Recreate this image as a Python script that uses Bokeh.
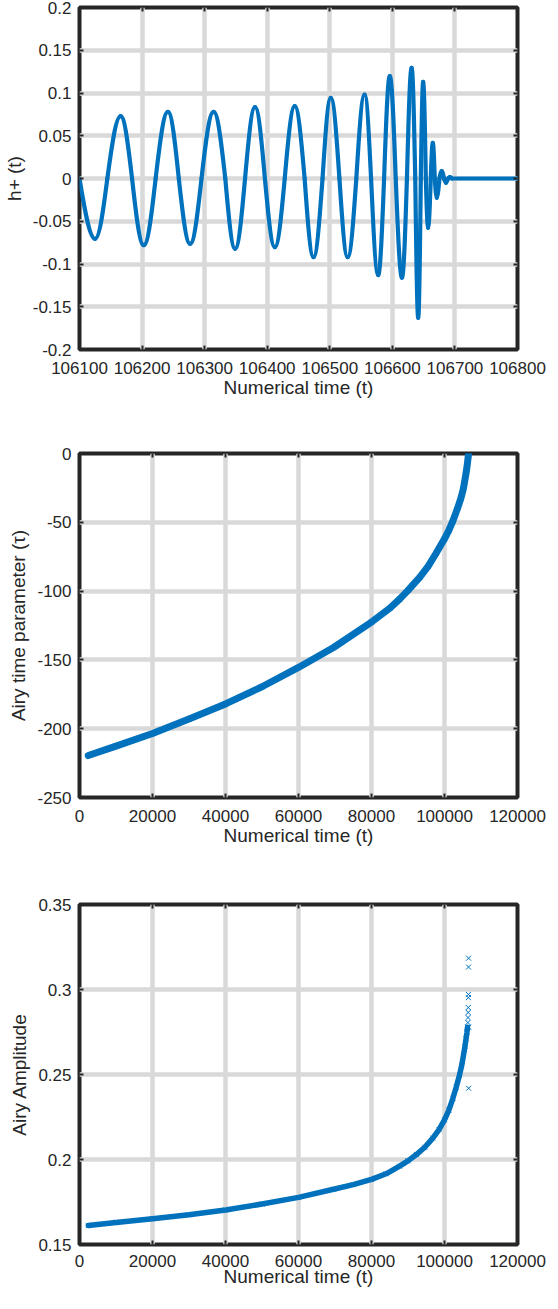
from bokeh.plotting import figure
from bokeh.layouts import column
from bokeh.models import (Range1d, FixedTicker, CustomJSTickFormatter, LinearAxis,
                          ColumnDataSource, CustomLabelingPolicy)
from bokeh.embed import file_html
from bokeh.resources import INLINE

# ---------------- data ----------------
# Panel 1: h+(t) waveform -- zero crossings and extrema
wave_t = [106100, 106125, 106144.5, 106165.7, 106184, 106202.7, 106221.7, 106241.3,
          106258.7, 106276.8, 106295, 106314.3, 106333, 106348.7, 106364.6, 106380.5,
          106396.3, 106412.2, 106428, 106444, 106459.8, 106474, 106488.4, 106501.6,
          106515.4, 106528.6, 106542.4, 106555.6, 106566, 106577.3, 106586.8, 106595.9,
          106605.4, 106615.4, 106623.3, 106630.8, 106636.6, 106641.3, 106645.5, 106649.2,
          106653.5, 106657.1, 106661.4, 106664.6, 106667.8, 106671, 106675.2, 106678.9,
          106682.5, 106685.7, 106689, 106692, 106695.3, 106800]
wave_h = [0, -0.0705, 0, 0.0729, 0, -0.078, 0, 0.078,
          0, -0.0764, 0, 0.078, 0, -0.0822, 0, 0.0834,
          0, -0.0803, 0, 0.0846, 0, -0.092, 0, 0.0944,
          0, -0.092, 0, 0.0982, 0, -0.113, 0, 0.1197,
          0, -0.116, 0, 0.1295, 0, -0.163, 0, 0.113,
          0, -0.0577, 0, 0.0418, 0, -0.0226, 0, 0.0086,
          0, -0.005, 0, 0.0015, 0, 0]
wave_xticks = [106100, 106200, 106300, 106400, 106500, 106600, 106700, 106800]
wave_yticks = [-0.2, -0.15, -0.1, -0.05, 0, 0.05, 0.1, 0.15, 0.2]

# Panel 2: Airy time parameter tau vs numerical time
tau_t = [2400, 10000, 20000, 30000, 40000, 50000, 60000, 69600, 80000, 85000,
         87700, 90000, 93200, 95500, 97700, 100000, 101250, 102300, 103550, 104500,
         105180, 105900, 106270, 106550]
tau_v = [-219.5, -212.7, -203.5, -193, -182, -169.5, -155.5, -141, -122.5, -112.5,
         -105.8, -99.5, -90, -82, -72.5, -62, -55.5, -49, -40, -32.5,
         -25.5, -14.5, -7.5, -1]
tau_yticks = [-250, -200, -150, -100, -50, 0]

# Panel 3: Airy amplitude vs numerical time
amp_t = [2400, 10000, 20000, 30000, 40000, 50000, 60000, 69600, 75000, 80000,
         84000, 87700, 90000, 92300, 94600, 96800, 98500, 100000, 101200, 102300,
         103200, 104100, 104700, 105200, 105600, 105900, 106150, 106300]
amp_v = [0.1612, 0.163, 0.1652, 0.1675, 0.1703, 0.1738, 0.1777, 0.1825, 0.1852, 0.1883,
         0.1916, 0.1961, 0.1992, 0.2029, 0.2072, 0.2126, 0.2176, 0.2233, 0.2291, 0.236,
         0.2425, 0.2496, 0.2552, 0.2613, 0.2665, 0.271, 0.2748, 0.2778]
amp_sparse_t = [106400, 106450, 106500, 106520, 106540, 106560, 106580, 106600, 106620, 106640]
amp_sparse_v = [0.2806, 0.2835, 0.2865, 0.2894, 0.2952, 0.2971, 0.3132, 0.3184, 0.2419, 0.2778]
amp_yticks = [0.15, 0.2, 0.25, 0.3, 0.35]

time_ticks = [0, 20000, 40000, 60000, 80000, 100000, 120000]

# ---------------- styling ----------------
BLUE = "#0072BD"
TXT = "#262626"
GRID = "#d9d9d9"
FONT = "Liberation Sans"
TICK_FS = "17px"
TITLE_FS = "19px"

fmt = CustomJSTickFormatter(code="return parseFloat(tick.toFixed(6)).toString();")
no_labels = CustomLabelingPolicy(code="for (const i of indices) indices.unset(i)")


def make_fig(height, xr, yr, xticks, yticks, xlabel, ylabel, top, bottom,
             x_std=12, x_title_std=0):
    p = figure(width=550, height=height, x_range=Range1d(*xr), y_range=Range1d(*yr),
               output_backend="svg", toolbar_location=None,
               min_border_left=76, min_border_right=33, min_border_top=top,
               min_border_bottom=bottom)
    p.background_fill_color = "white"
    p.border_fill_color = "white"
    p.outline_line_color = TXT
    p.outline_line_width = 4
    p.xaxis.ticker = FixedTicker(ticks=xticks)
    p.yaxis.ticker = FixedTicker(ticks=yticks)
    for ax in (p.xaxis[0], p.yaxis[0]):
        ax.formatter = fmt
        ax.axis_line_color = None
        ax.major_tick_in = 4
        ax.major_tick_out = 0
        ax.major_tick_line_color = TXT
        ax.major_tick_line_width = 2
        ax.minor_tick_line_color = None
        ax.major_label_text_font = FONT
        ax.major_label_text_font_size = TICK_FS
        ax.major_label_text_color = TXT
        ax.major_label_text_line_height = 1.0
        ax.axis_label_text_font = FONT
        ax.axis_label_text_font_size = TITLE_FS
        ax.axis_label_text_font_style = "normal"
        ax.axis_label_text_color = TXT
        ax.axis_label_text_line_height = 1.0
    p.xaxis[0].axis_label = xlabel
    p.yaxis[0].axis_label = ylabel
    p.xaxis[0].major_label_standoff = x_std
    p.xaxis[0].axis_label_standoff = x_title_std
    p.yaxis[0].major_label_standoff = 8
    p.yaxis[0].axis_label_standoff = 5
    for g in (p.xgrid, p.ygrid):
        g.grid_line_color = GRID
        g.grid_line_width = 4.5
    # tick marks on the top and right edges of the box (no labels)
    for loc, tk in (("above", xticks), ("right", yticks)):
        ax = LinearAxis(ticker=FixedTicker(ticks=tk), formatter=fmt,
                        major_label_policy=no_labels,
                        major_label_text_font_size="0px", major_label_standoff=0,
                        axis_line_color=None, major_tick_in=4, major_tick_out=0,
                        major_tick_line_color=TXT, major_tick_line_width=2,
                        minor_tick_line_color=None)
        p.add_layout(ax, loc)
    return p


# ---------------- panel 1 ----------------
p1 = make_fig(442, (106100, 106800), (-0.2, 0.2), wave_xticks, wave_yticks,
              "Numerical time (t)", "h+ (t)", 7, 93)

seg = dict(x0=[], y0=[], x1=[], y1=[], cx0=[], cy0=[], cx1=[], cy1=[])
for i in range(len(wave_t) - 1):
    xa, ya, xb, yb = wave_t[i], wave_h[i], wave_t[i + 1], wave_h[i + 1]
    dx = xb - xa
    if ya == 0 and yb != 0:
        c0 = (xa + 0.3261 * dx, 0.5123 * yb)
        c1 = (xa + 0.6381 * dx, yb)
    elif ya != 0 and yb == 0:
        c0 = (xa + 0.3619 * dx, ya)
        c1 = (xa + 0.6739 * dx, 0.5123 * ya)
    else:
        c0 = (xa + dx / 3.0, ya)
        c1 = (xa + 2 * dx / 3.0, yb)
    seg["x0"].append(xa); seg["y0"].append(ya)
    seg["x1"].append(xb); seg["y1"].append(yb)
    seg["cx0"].append(c0[0]); seg["cy0"].append(c0[1])
    seg["cx1"].append(c1[0]); seg["cy1"].append(c1[1])

p1.bezier(x0="x0", y0="y0", x1="x1", y1="y1", cx0="cx0", cy0="cy0", cx1="cx1", cy1="cy1",
          source=ColumnDataSource(seg), line_color=BLUE, line_width=4.2, line_cap="round")

# ---------------- panel 2 ----------------
p2 = make_fig(451, (0, 120000), (-250, 0), time_ticks, tau_yticks,
              "Numerical time (t)", "Airy time parameter (\u03c4)", 11, 96)
p2.line(tau_t, tau_v, line_color=BLUE, line_width=7, line_join="round", line_cap="round")
p2.scatter(tau_t, tau_v, marker="x", size=7, line_color=BLUE, line_width=1)

# ---------------- panel 3 ----------------
p3 = make_fig(400, (0, 120000), (0.15, 0.35), time_ticks, amp_yticks,
              "Numerical time (t)", "Airy Amplitude", 11, 49, x_std=10, x_title_std=-4)
p3.line(amp_t, amp_v, line_color=BLUE, line_width=5.5, line_join="round", line_cap="round")
p3.scatter(amp_t, amp_v, marker="x", size=7, line_color=BLUE, line_width=1)
p3.scatter(amp_sparse_t, amp_sparse_v, marker="x", size=7, line_color=BLUE, line_width=1)

layout = column(p1, p2, p3)
open("out.html", "w").write(file_html(layout, INLINE))
